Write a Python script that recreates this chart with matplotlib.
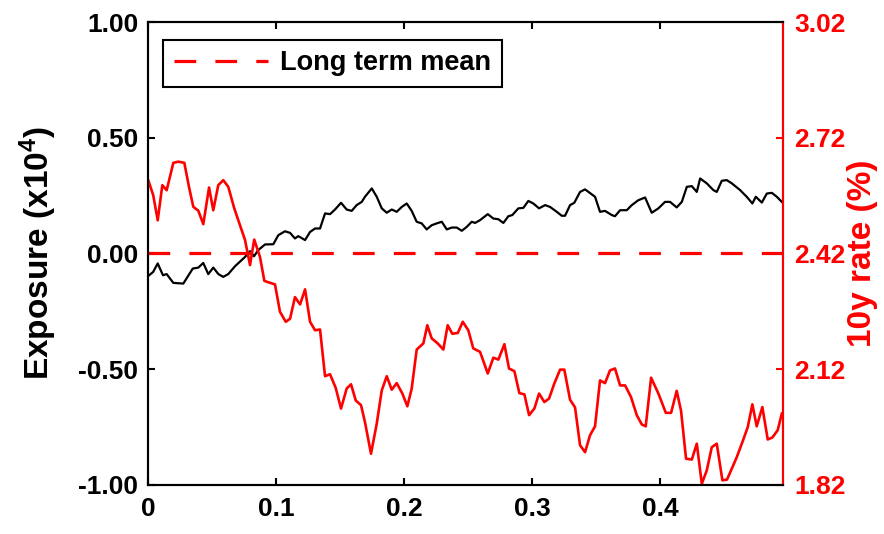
import numpy as np
import matplotlib.pyplot as plt
from matplotlib.ticker import FormatStrFormatter

plt.rcParams['font.family'] = 'Liberation Sans'
plt.rcParams['font.weight'] = 'bold'
plt.rcParams['axes.labelweight'] = 'bold'
plt.rcParams['mathtext.fontset'] = 'custom'
plt.rcParams['mathtext.rm'] = 'Liberation Sans:bold'
plt.rcParams['mathtext.bf'] = 'Liberation Sans:bold'
plt.rcParams['mathtext.default'] = 'bf'

# exposure path (x10^4)
t_exp = [0.000, 0.004, 0.0076, 0.0117, 0.0146, 0.0198, 0.0276, 0.031, 0.035, 0.0393,
         0.0432, 0.0471, 0.051, 0.055, 0.0588, 0.0627, 0.068, 0.0758, 0.0797, 0.0828,
         0.086, 0.0914, 0.0979, 0.1018, 0.107, 0.111, 0.1148, 0.1174, 0.1227, 0.1266,
         0.1305, 0.1344, 0.1383, 0.1422, 0.1461, 0.1508, 0.1552, 0.1591, 0.163, 0.167,
         0.1695, 0.1748, 0.1787, 0.1826, 0.1865, 0.1904, 0.1943, 0.1982, 0.2021, 0.206,
         0.2099, 0.2138, 0.2177, 0.2216, 0.2255, 0.2295, 0.2334, 0.2373, 0.2412, 0.2451,
         0.249, 0.2529, 0.2555, 0.2594, 0.2654, 0.2698, 0.2737, 0.2776, 0.2815, 0.2846,
         0.2893, 0.2932, 0.2971, 0.301, 0.3055, 0.3102, 0.3141, 0.3193, 0.3232, 0.3258,
         0.3297, 0.333, 0.3375, 0.3414, 0.3453, 0.3492, 0.3531, 0.357, 0.3623, 0.3648,
         0.3688, 0.374, 0.3779, 0.383, 0.3883, 0.3935, 0.3987, 0.4039, 0.4078, 0.413,
         0.417, 0.4209, 0.4248, 0.4287, 0.4313, 0.4365, 0.4416, 0.4443, 0.4482, 0.4521,
         0.456, 0.4625, 0.4677, 0.4721, 0.4748, 0.4795, 0.4834, 0.4873, 0.4912, 0.4951]
exposure = [-0.098, -0.080, -0.043, -0.094, -0.089, -0.127, -0.130, -0.100, -0.065, -0.061,
            -0.041, -0.089, -0.061, -0.089, -0.101, -0.089, -0.055, -0.015, 0.010, -0.012,
            0.014, 0.039, 0.040, 0.079, 0.096, 0.089, 0.065, 0.075, 0.058, 0.093,
            0.108, 0.108, 0.173, 0.170, 0.190, 0.219, 0.190, 0.184, 0.209, 0.223,
            0.245, 0.281, 0.245, 0.195, 0.176, 0.190, 0.180, 0.201, 0.216, 0.184,
            0.137, 0.130, 0.104, 0.122, 0.130, 0.137, 0.104, 0.112, 0.112, 0.098,
            0.115, 0.137, 0.132, 0.144, 0.170, 0.151, 0.148, 0.132, 0.161, 0.166,
            0.195, 0.197, 0.227, 0.216, 0.195, 0.209, 0.201, 0.180, 0.163, 0.163,
            0.209, 0.219, 0.266, 0.277, 0.261, 0.245, 0.180, 0.184, 0.166, 0.161,
            0.187, 0.187, 0.209, 0.230, 0.242, 0.176, 0.195, 0.223, 0.223, 0.199,
            0.223, 0.288, 0.291, 0.266, 0.324, 0.303, 0.274, 0.266, 0.314, 0.317,
            0.303, 0.274, 0.245, 0.216, 0.245, 0.220, 0.259, 0.262, 0.245, 0.223]

# 10y rate (%)
t_rate = [0.000, 0.0041, 0.0076, 0.0112, 0.0146, 0.0198, 0.0237, 0.0284, 0.032, 0.0354,
          0.0393, 0.0432, 0.0477, 0.051, 0.0549, 0.0588, 0.0627, 0.0674, 0.0719, 0.0758,
          0.0797, 0.083, 0.0875, 0.0909, 0.0953, 0.0992, 0.1031, 0.1076, 0.111, 0.1148,
          0.1188, 0.1227, 0.1266, 0.1305, 0.1344, 0.1383, 0.1422, 0.1466, 0.1508, 0.1552,
          0.1586, 0.1623, 0.1664, 0.1695, 0.1742, 0.1787, 0.1826, 0.1865, 0.1904, 0.1943,
          0.1987, 0.2026, 0.206, 0.2099, 0.2151, 0.2182, 0.2216, 0.2263, 0.2307, 0.2341,
          0.2377, 0.242, 0.2459, 0.2502, 0.2541, 0.2594, 0.2654, 0.2698, 0.2737, 0.2784,
          0.282, 0.2862, 0.2901, 0.294, 0.2977, 0.3018, 0.3055, 0.3096, 0.3133, 0.3174,
          0.3219, 0.3252, 0.3297, 0.3336, 0.3375, 0.3414, 0.3453, 0.3492, 0.3531, 0.357,
          0.3609, 0.3648, 0.3688, 0.3727, 0.3773, 0.3818, 0.3857, 0.3888, 0.393, 0.3987,
          0.4045, 0.4086, 0.413, 0.4164, 0.4203, 0.4248, 0.4287, 0.4326, 0.4365, 0.4404,
          0.4443, 0.4487, 0.4523, 0.456, 0.4599, 0.4643, 0.4685, 0.4721, 0.4755, 0.4799,
          0.4841, 0.4877, 0.4919, 0.4951]
rate = [2.612, 2.571, 2.506, 2.597, 2.584, 2.655, 2.658, 2.655, 2.593, 2.541,
        2.531, 2.496, 2.591, 2.532, 2.597, 2.610, 2.593, 2.537, 2.493, 2.455,
        2.390, 2.456, 2.411, 2.349, 2.344, 2.340, 2.269, 2.243, 2.251, 2.307,
        2.288, 2.327, 2.243, 2.221, 2.223, 2.102, 2.107, 2.072, 2.018, 2.070,
        2.081, 2.039, 2.027, 1.983, 1.901, 1.979, 2.065, 2.102, 2.067, 2.084,
        2.057, 2.024, 2.070, 2.171, 2.187, 2.234, 2.200, 2.187, 2.171, 2.234,
        2.212, 2.214, 2.243, 2.221, 2.174, 2.165, 2.109, 2.150, 2.145, 2.185,
        2.122, 2.115, 2.058, 2.055, 2.001, 2.018, 2.057, 2.035, 2.044, 2.083,
        2.119, 2.119, 2.041, 2.021, 1.923, 1.905, 1.949, 1.972, 2.091, 2.084,
        2.117, 2.122, 2.078, 2.078, 2.048, 2.001, 1.977, 1.972, 2.098, 2.057,
        2.007, 2.007, 2.064, 2.012, 1.888, 1.886, 1.927, 1.823, 1.858, 1.918,
        1.927, 1.832, 1.834, 1.862, 1.892, 1.931, 1.970, 2.029, 1.972, 2.022,
        1.938, 1.943, 1.962, 2.005]
long_term_mean = 2.42

xticks = [0, 0.1, 0.2, 0.3, 0.4]
xticklabels = ['0', '0.1', '0.2', '0.3', '0.4']
yticks_left = [-1.0, -0.5, 0.0, 0.5, 1.0]
yticks_right = [1.82, 2.12, 2.42, 2.72, 3.02]

fig = plt.figure(figsize=(8.84, 5.34), dpi=100)
ax = fig.add_axes([0.1674, 0.0918, 0.7183, 0.867])
ax2 = ax.twinx()

ax.plot(t_exp, exposure, color='k', lw=1.6)
ax2.plot(t_rate, rate, color='r', lw=1.9)
ax2.axhline(long_term_mean, color='r', lw=2.3, dashes=(6.8, 6.0), label='Long term mean')

ax.set_xlim(0, 0.496)
ax.set_ylim(-1, 1)
ax2.set_ylim(1.82, 3.02)
ax.set_xticks(xticks)
ax.set_xticklabels(xticklabels)
ax.set_yticks(yticks_left)
ax2.set_yticks(yticks_right)
ax.yaxis.set_major_formatter(FormatStrFormatter('%.2f'))
ax2.yaxis.set_major_formatter(FormatStrFormatter('%.2f'))

ax.tick_params(axis='both', direction='in', length=5, width=1.5, labelsize=19, pad=7)
ax.tick_params(axis='x', top=True, pad=9)
ax2.tick_params(axis='y', direction='in', length=5, width=1.5, labelsize=19, pad=8,
                colors='r')

for a in (ax, ax2):
    for s in a.spines.values():
        s.set_linewidth(1.5)
        s.set_color('k')
ax2.spines['right'].set_color('r')

ax.set_ylabel('Exposure (x10$^4$)', fontsize=24, fontweight='bold', labelpad=14)
ax2.set_ylabel('10y rate (%)', fontsize=24, fontweight='bold', color='r',
               rotation=90, labelpad=1)

leg = ax2.legend(loc='upper left', bbox_to_anchor=(0.024, 0.961), borderaxespad=0,
                 fontsize=19.5, handlelength=3.5, handletextpad=0.45, borderpad=0.38,
                 fancybox=False, framealpha=1, edgecolor='k')
leg.get_frame().set_linewidth(1.5)

plt.savefig('out.png', dpi=100)
